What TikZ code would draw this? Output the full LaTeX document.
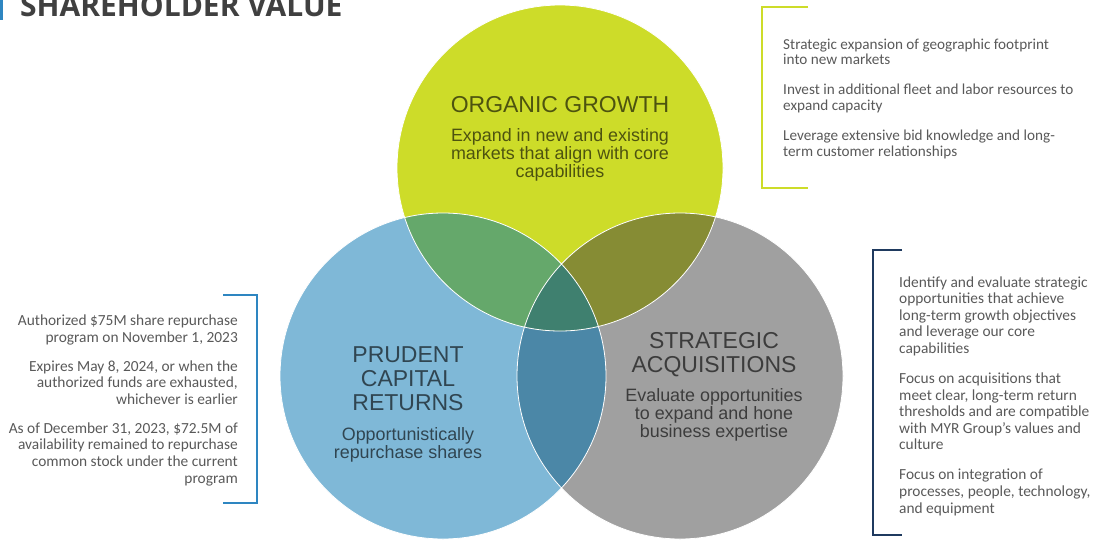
\documentclass[tikz,border=0pt]{standalone}
\usepackage{fontspec}
\setmainfont{Liberation Sans}
\newfontfamily\notefont{Carlito}
\newfontfamily\titlefont{Open Sans}
\usetikzlibrary{positioning}
\definecolor{growth}{HTML}{CDDC29}
\definecolor{capital}{HTML}{7FB8D7}
\definecolor{acquire}{HTML}{A0A0A0}
\definecolor{growcap}{HTML}{65A86B}
\definecolor{growacq}{HTML}{868C34}
\definecolor{capacq}{HTML}{4B87A7}
\definecolor{allthree}{HTML}{3F806F}
\definecolor{navy}{HTML}{1F3A5F}
\definecolor{midblue}{HTML}{2E86C1}
\definecolor{notegray}{HTML}{595959}
\definecolor{titlegray}{HTML}{404040}
\begin{document}
\begin{tikzpicture}[x=1pt,y=-1pt,
  head/.style={text=black,text opacity=.62,font=\fontsize{23}{24}\selectfont,align=center,inner sep=0pt},
  sub/.style={text=black,text opacity=.62,font=\fontsize{17.9}{17.7}\selectfont,align=center,inner sep=0pt},
  note/.style={text=notegray,font=\notefont\fontsize{15.4}{16.6}\selectfont,inner sep=0pt},
  bracket/.style={line width=2pt}]
      \useasboundingbox (0,0) rectangle (1100,539);
      \clip (0,0) rectangle (1100,539);
      \coordinate(G) at (560,168);
      \coordinate(P) at (443,376);
      \coordinate(S) at (680,376);
      \fill[growth] (G) circle (163pt);
      \fill[capital] (P) circle (163pt);
      \fill[acquire] (S) circle (163pt);
      \begin{scope}
        \clip (P) circle (163pt);
        \fill[capacq] (S) circle (163pt);
      \end{scope}
      \begin{scope}
        \clip (G) circle (163pt);
        \fill[growcap] (P) circle (163pt);
        \fill[growacq] (S) circle (163pt);
        \clip (P) circle (163pt);
        \fill[allthree] (S) circle (163pt);
      \end{scope}
      \draw[white,line width=.8pt] (G) circle (163pt) (P) circle (163pt) (S) circle (163pt);
      \node[head,anchor=base](Gh) at (560,112) {ORGANIC GROWTH};
      \node[sub,anchor=base](Gt) at (560,177) {Expand in new and existing\\markets that align with core\\capabilities};
      \node[head,anchor=base](Ph) at (408,410) {PRUDENT\\CAPITAL\\RETURNS};
      \node[sub,anchor=base](Pt) at (408,458) {Opportunistically\\repurchase shares};
      \node[head,anchor=base](Sh) at (714,372) {STRATEGIC\\ACQUISITIONS};
      \node[sub,anchor=base](St) at (714,437) {Evaluate opportunities\\to expand and hone\\business expertise};
      \fill[midblue] (0,0) rectangle (2.5,20);
      \node[anchor=base west,inner sep=0pt,text=titlegray,font=\titlefont\bfseries\fontsize{30}{30}\selectfont](T) at (20,16) {SHAREHOLDER VALUE};
      \draw[growth,bracket] (808,7) -| (762,188) -- (808,188);
      \draw[navy,bracket] (902,250) -| (873,535) -- (902,535);
      \draw[midblue,bracket] (223,295) -| (257,503) -- (223,503);
      \node[note,font=\notefont\fontsize{15.2}{15.6}\selectfont,align=left,anchor=base west](Gn) at (783,156) {Strategic expansion of geographic footprint\\into new markets\\[14.4pt]Invest in additional fleet and labor resources to\\expand capacity\\[14.4pt]Leverage extensive bid knowledge and long-\\term customer relationships};
      \node[note,align=left,anchor=base west](Sn) at (899,513) {Identify and evaluate strategic\\opportunities that achieve\\long-term growth objectives\\and leverage our core\\capabilities\\[13.4pt]Focus on acquisitions that\\meet clear, long-term return\\thresholds and are compatible\\with MYR Group’s values and\\culture\\[13.4pt]Focus on integration of\\processes, people, technology,\\and equipment};
      \node[note,align=right,anchor=base east](Pn) at (238,483) {Authorized \$75M share repurchase\\program on November 1, 2023\\[12.4pt]Expires May 8, 2024, or when the\\authorized funds are exhausted,\\whichever is earlier\\[12.4pt]As of December 31, 2023, \$72.5M of\\availability remained to repurchase\\common stock under the current\\program};
    \end{tikzpicture}
\end{document}
